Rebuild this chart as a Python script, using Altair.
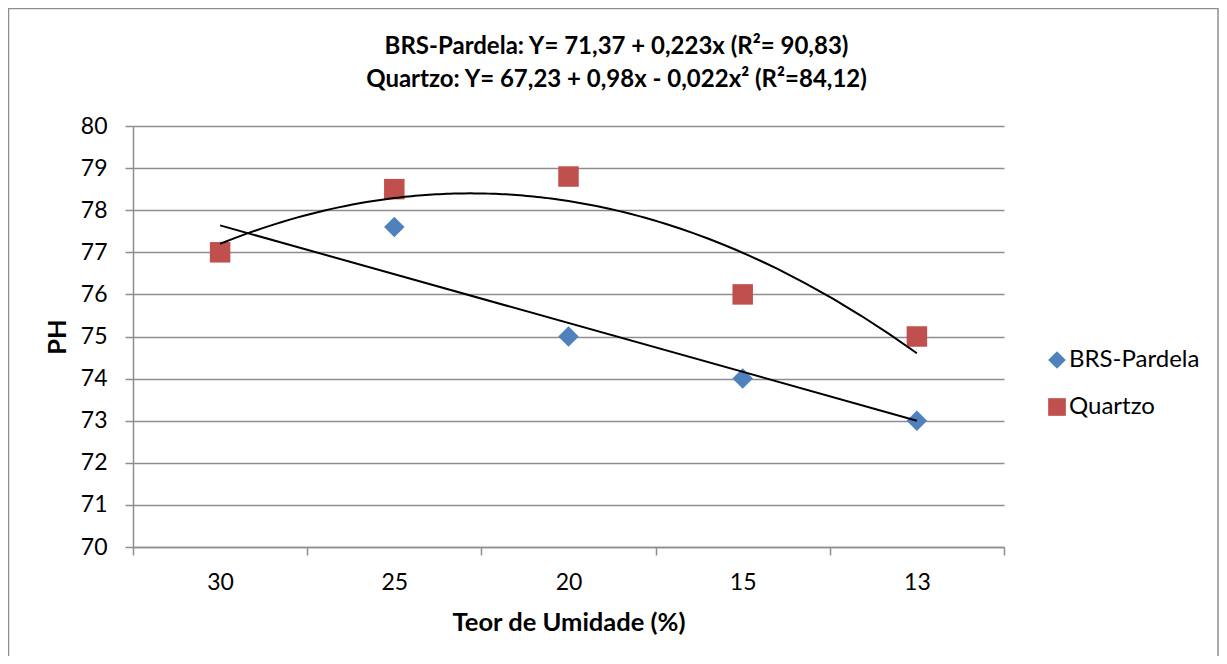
import altair as alt
import pandas as pd

categories = ["30", "25", "20", "15", "13"]
brs_pardela = [77.0, 77.6, 75.0, 74.0, 73.0]
quartzo = [77.0, 78.5, 78.8, 76.0, 75.0]
series_names = ["BRS-Pardela", "Quartzo"]
series_colors = ["#4F81BD", "#C0504D"]
series_shapes = ["diamond", "square"]
title_lines = [
    "BRS-Pardela: Y= 71,37 + 0,223x (R²= 90,83)",
    "Quartzo: Y= 67,23 + 0,98x - 0,022x² (R²=84,12)",
]
y_ticks = [70, 71, 72, 73, 74, 75, 76, 77, 78, 79, 80]
x_label = "Teor de Umidade (%)"
y_label = "PH"

rows = []
for name, vals in zip(series_names, [brs_pardela, quartzo]):
    for i, c in enumerate(categories):
        rows.append({"idx": i + 1, "umidade": c, "serie": name, "ph": vals[i]})
df = pd.DataFrame(rows)

W, H = 871, 421
FONT = "Lato"
GRID = "#8e8e8e"
FS = 23

n = len(categories)
bounds = [i + 0.5 for i in range(n + 1)]
cat_js = "[" + ",".join("'" + c + "'" for c in categories) + "]"
label_expr = f"datum.value < {n} ? {cat_js}[floor(datum.value)] : ''"

x_enc = alt.X(
    "idx:Q",
    scale=alt.Scale(domain=[0.5, n + 0.5], nice=False, zero=False),
    axis=alt.Axis(
        values=bounds, labelExpr=label_expr, labelOffset=W / n / 2,
        labelOverlap=False, labelFlush=False, labelBound=False,
        grid=False, tickSize=8, tickColor=GRID, tickWidth=1.5,
        domainColor=GRID, domainWidth=1.5,
        labelFont=FONT, labelFontSize=FS, labelColor="#000", labelPadding=16,
        title=x_label, titleFont=FONT, titleFontSize=25.5, titleFontWeight="bold",
        titleColor="#000", titleX=W / 2, titleY=75, titleAlign="center",
        titleBaseline="middle",
    ),
)
y_enc = alt.Y(
    "ph:Q",
    scale=alt.Scale(domain=[70, 80], nice=False, zero=False),
    axis=alt.Axis(
        values=y_ticks, grid=True, gridColor=GRID, gridWidth=1.5,
        tickSize=8, tickColor=GRID, tickWidth=1.5,
        domainColor=GRID, domainWidth=1.5,
        labelFont=FONT, labelFontSize=FS, labelColor="#000", labelPadding=18,
        title=y_label, titleFont=FONT, titleFontSize=25.5, titleFontWeight="bold",
        titleColor="#000", titleX=-76, titleY=H / 2, titleAlign="center",
        titleBaseline="middle", titleAngle=270,
    ),
)

border = alt.Chart(alt.Data(values=[{}])).mark_rect(
    fillOpacity=0, stroke="#8e8e8e", strokeWidth=1.5
).encode(
    x=alt.value(-124.5), x2=alt.value(1085), y=alt.value(-117.5), y2=alt.value(600)
)

legend = alt.Legend(
    title=None, orient="none", legendX=912, legendY=222,
    labelFont=FONT, labelFontSize=24, labelColor="#000",
    symbolSize=313, symbolStrokeWidth=0, rowPadding=23, labelOffset=0,
)

points = alt.Chart(df).mark_point(filled=True, opacity=1, size=420).encode(
    x=x_enc,
    y=y_enc,
    color=alt.Color(
        "serie:N",
        scale=alt.Scale(domain=series_names, range=series_colors),
        legend=legend,
    ),
    shape=alt.Shape(
        "serie:N",
        scale=alt.Scale(domain=series_names, range=series_shapes),
        legend=legend,
    ),
)

lin = alt.Chart(df).transform_filter(
    alt.datum.serie == series_names[0]
).transform_regression("idx", "ph", method="linear").mark_line(
    color="black", strokeWidth=2
).encode(x=x_enc, y=y_enc)

poly = alt.Chart(df).transform_filter(
    alt.datum.serie == series_names[1]
).transform_regression("idx", "ph", method="poly", order=2).mark_line(
    color="black", strokeWidth=2
).encode(x=x_enc, y=y_enc)

chart = alt.layer(border, points, lin, poly).properties(
    width=W,
    height=H,
    autosize=alt.AutoSizeParams(type="none"),
    padding={"left": 125, "top": 118, "right": 215, "bottom": 109},
    title=alt.TitleParams(
        text=title_lines, font=FONT, fontSize=24, fontWeight="bold",
        color="#000", anchor="middle", dx=48, dy=84, lineHeight=33, offset=0,
    ),
).configure_view(stroke=None)

chart.save("out.html", embed_options={"renderer": "svg", "actions": False})
